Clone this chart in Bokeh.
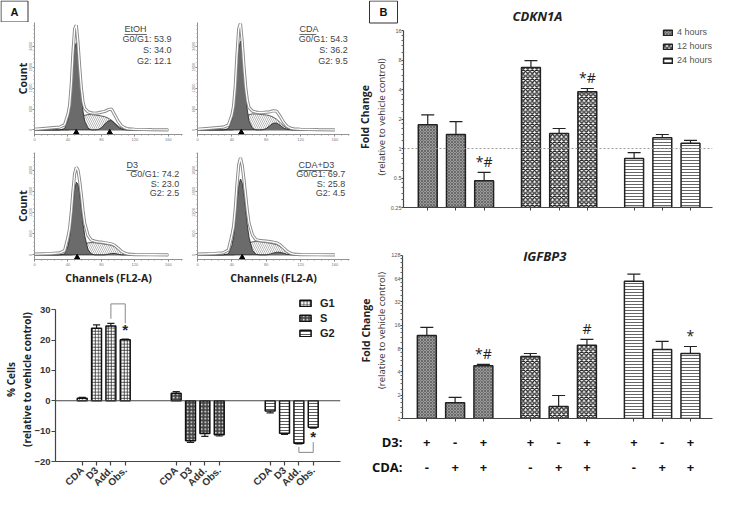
import math
from bokeh.plotting import figure
from bokeh.layouts import row, column
from bokeh.models import (FixedTicker, Label, Span, Legend, LegendItem, LinearAxis,
                          Range1d, FactorRange)
from bokeh.core.properties import value
from bokeh.embed import file_html
from bokeh.resources import INLINE

# ----------------------------- data -----------------------------
# flow-cytometry histograms (channel vs count)
channels = [0, 10, 20, 30, 36, 40, 42, 44, 46, 48, 50, 52, 54, 56, 58, 60, 64, 68,
            72, 76, 80, 84, 88, 92, 96, 100, 104, 108, 112, 120, 140, 160]

etoh_total = [20, 40, 60, 80, 150, 450, 700, 1300, 2200, 2900, 3000, 2500, 1800, 1200, 800, 620,
              520, 490, 480, 490, 510, 530, 580, 600, 430, 250, 120, 60, 30, 20, 10, 5]
etoh_g1 = [0, 0, 0, 0, 40, 300, 550, 1100, 1800, 2350, 2500, 2200, 1600, 1000, 550, 250,
           50, 0, 0, 0, 0, 0, 0, 0, 0, 0, 0, 0, 0, 0, 0, 0]
etoh_s = [0, 0, 0, 0, 0, 0, 10, 20, 50, 80, 130, 200, 270, 340, 390, 420,
          440, 440, 430, 420, 400, 380, 340, 280, 200, 110, 50, 15, 0, 0, 0, 0]
etoh_g2 = [0, 0, 0, 0, 0, 0, 0, 0, 0, 0, 0, 0, 0, 0, 0, 0,
           0, 0, 0, 10, 60, 170, 260, 270, 180, 80, 25, 5, 0, 0, 0, 0]

cda_total = [20, 40, 60, 80, 140, 420, 680, 1250, 2150, 2900, 3050, 2550, 1850, 1250, 850, 640,
             540, 510, 500, 500, 510, 520, 550, 540, 400, 230, 110, 55, 30, 20, 10, 5]
cda_g1 = [0, 0, 0, 0, 40, 300, 550, 1100, 1800, 2350, 2550, 2250, 1650, 1050, 580, 260,
          50, 0, 0, 0, 0, 0, 0, 0, 0, 0, 0, 0, 0, 0, 0, 0]
cda_s = [0, 0, 0, 0, 0, 0, 10, 20, 50, 90, 140, 210, 290, 360, 410, 440,
         460, 460, 450, 440, 430, 410, 370, 310, 220, 120, 50, 15, 0, 0, 0, 0]
cda_g2 = [0, 0, 0, 0, 0, 0, 0, 0, 0, 0, 0, 0, 0, 0, 0, 0,
          0, 0, 0, 5, 40, 120, 190, 200, 140, 60, 20, 5, 0, 0, 0, 0]

d3_total = [20, 30, 40, 60, 120, 500, 750, 1200, 1800, 2300, 2480, 2400, 2100, 1700, 1250, 900,
            550, 420, 390, 370, 360, 345, 330, 310, 270, 190, 100, 50, 20, 10, 5, 0]
d3_g1 = [0, 0, 0, 0, 30, 250, 500, 900, 1400, 1850, 2060, 2000, 1750, 1350, 900, 550,
         150, 30, 0, 0, 0, 0, 0, 0, 0, 0, 0, 0, 0, 0, 0, 0]
d3_s = [0, 0, 0, 0, 0, 0, 0, 0, 10, 40, 80, 120, 170, 220, 260, 300,
        340, 350, 345, 335, 320, 305, 290, 270, 230, 160, 90, 40, 0, 0, 0, 0]
d3_g2 = [0, 0, 0, 0, 0, 0, 0, 0, 0, 0, 0, 0, 0, 0, 0, 0,
         0, 0, 0, 0, 0, 0, 20, 40, 40, 20, 0, 0, 0, 0, 0, 0]

cd_total = [20, 30, 40, 60, 140, 550, 800, 1300, 2000, 2550, 2750, 2550, 2150, 1700, 1250, 900,
            560, 430, 410, 400, 390, 375, 360, 340, 290, 200, 110, 50, 20, 10, 5, 0]
cd_g1 = [0, 0, 0, 0, 30, 260, 520, 950, 1500, 1950, 2150, 2050, 1750, 1300, 850, 500,
         130, 20, 0, 0, 0, 0, 0, 0, 0, 0, 0, 0, 0, 0, 0, 0]
cd_s = [0, 0, 0, 0, 0, 0, 0, 10, 20, 50, 90, 140, 200, 260, 300, 340,
        370, 380, 375, 365, 350, 335, 315, 290, 240, 170, 90, 40, 0, 0, 0, 0]
cd_g2 = [0, 0, 0, 0, 0, 0, 0, 0, 0, 0, 0, 0, 0, 0, 0, 0,
         0, 0, 0, 0, 0, 20, 50, 75, 75, 50, 20, 5, 0, 0, 0, 0]

etoh_marks = [50, 90]
cda_marks = [51]
d3_marks = [51]
cd_marks = [52]

hist_names = ["EtOH", "CDA", "D3", "CDA+D3"]
g0g1_pct = [53.9, 54.3, 74.2, 69.7]
s_pct = [34.0, 36.2, 23.0, 25.8]
g2_pct = [12.1, 9.5, 2.5, 4.5]

# panel A bar chart: % cells relative to vehicle control
phases = ["G1", "S", "G2"]
treatments = ["CDA", "D3", "Add.", "Obs."]
g1_vals = [0.8, 23.9, 24.6, 20.1]
g1_err = [0.3, 1.1, 0.9, 0.2]
s_vals = [2.5, -13.2, -10.8, -11.2]
s_err = [0.5, 0.5, 0.9, 0.4]
g2_vals = [-3.4, -10.7, -14.0, -8.7]
g2_err = [0.6, 0.4, 0.2, 0.3]

# panel B: fold change (log2 axes)
hours = ["4 hours", "12 hours", "24 hours"]
d3_signs = ["+", "-", "+"]
cda_signs = ["-", "+", "+"]
cdkn1a_vals = [[1.75, 1.39, 0.47], [6.7, 1.42, 3.8], [0.79, 1.29, 1.13]]
cdkn1a_upper = [[2.2, 1.88, 0.57], [7.9, 1.6, 4.1], [0.91, 1.39, 1.21]]
cdkn1a_marks = [["", "", "*#"], ["", "", "*#"], ["", "", ""]]
igfbp3_vals = [[11.8, 1.6, 4.8], [6.3, 1.43, 8.8], [59, 7.8, 6.9]]
igfbp3_upper = [[15, 1.87, 5.0], [6.9, 1.98, 10.5], [73, 9.9, 8.5]]
igfbp3_marks = [["", "", "*#"], ["", "", "#"], ["", "", "*"]]
cdkn1a_ticks = [0.25, 0.5, 1, 2, 4, 8, 16]
igfbp3_ticks = [1, 2, 4, 8, 16, 32, 64, 128]

# ----------------------------- styling -----------------------------
OS = "Open Sans"
AR = "Liberation Sans"


def base(p):
    p.outline_line_color = None
    for g in list(p.xgrid) + list(p.ygrid):
        g.visible = False
    p.background_fill_color = "white"
    p.border_fill_color = "white"
    return p


def fig(w, h, l, r, t, b, **kw):
    p = figure(width=w, height=h, output_backend="svg", toolbar_location=None, title=None,
               min_border_left=l, min_border_right=r, min_border_top=t, min_border_bottom=b,
               frame_align=False, **kw)
    return base(p)


def header(w, h):
    return fig(w, h, 0, 0, 0, 0, x_range=Range1d(0, w), y_range=Range1d(0, h),
               x_axis_location=None, y_axis_location=None)


def blank_axis(label, font_style, size, color="#333", standoff=0):
    ax = LinearAxis(ticker=FixedTicker(ticks=[]), axis_label=label)
    ax.axis_line_color = None
    ax.major_tick_out = 0
    ax.major_tick_in = 0
    ax.minor_tick_out = 0
    ax.minor_tick_in = 0
    ax.major_label_text_font_size = "0px"
    ax.major_label_standoff = 0
    ax.axis_label_standoff = standoff
    ax.axis_label_text_font = OS
    ax.axis_label_text_font_style = font_style
    ax.axis_label_text_font_size = size
    ax.axis_label_text_color = color
    return ax


def histogram(total, g1, s, g2, marks, idx, w, h, l, r, t, b, y_end,
              name_x, right_x, ys, bottom_row, left_col, px_x, px_y):
    p = fig(w, h, l, r, t, b, x_range=Range1d(0, 177), y_range=Range1d(-130, y_end))
    p.varea(x=channels, y1=0, y2=s, fill_color="white", hatch_pattern="left_diagonal_line",
            hatch_color="#888", hatch_scale=4, hatch_weight=0.6)
    p.line(channels, s, line_color="#333", line_width=0.8)
    p.varea(x=channels, y1=0, y2=g1, fill_color="#6b6b6b")
    p.line(channels, g1, line_color="#222", line_width=0.8)
    p.varea(x=channels, y1=0, y2=g2, fill_color="#6b6b6b")
    p.line(channels, g2, line_color="#222", line_width=0.8)
    p.line(channels, total, line_color="#8a8a8a", line_width=3.2)
    p.line(channels, total, line_color="white", line_width=1.3)
    p.scatter(x=marks, y=[-75] * len(marks), marker="triangle", size=5.5,
              fill_color="black", line_color="black")

    p.xaxis.ticker = FixedTicker(ticks=[0, 40, 80, 120, 160], minor_ticks=list(range(0, 177, 8)))
    p.yaxis.ticker = FixedTicker(ticks=[0, 600, 1200, 1800, 2400],
                                 minor_ticks=list(range(0, int(y_end), 120)))
    for ax in (p.xaxis[0], p.yaxis[0]):
        ax.axis_line_color = "#777"
        ax.axis_line_width = 0.8
        ax.major_tick_line_color = "#777"
        ax.minor_tick_line_color = "#999"
        ax.major_tick_out = 2
        ax.major_tick_in = 0
        ax.minor_tick_out = 1
        ax.minor_tick_in = 0
        ax.major_label_text_font_size = "4px"
        ax.major_label_text_color = "#777"
        ax.major_label_standoff = 1
        ax.major_label_text_font = AR
    p.yaxis.major_label_orientation = "vertical"
    p.yaxis.major_label_standoff = 0
    if left_col:
        p.yaxis.axis_label = "Count"
        p.yaxis.axis_label_text_font = OS
        p.yaxis.axis_label_text_font_style = "bold"
        p.yaxis.axis_label_text_font_size = "10.5px"
        p.yaxis.axis_label_standoff = -3
        p.yaxis.axis_label_text_color = "#222"
    if bottom_row:
        p.xaxis.axis_label = "Channels (FL2-A)"
        p.xaxis.axis_label_text_font = OS
        p.xaxis.axis_label_text_font_style = "bold"
        p.xaxis.axis_label_text_font_size = "10.5px"
        p.xaxis.axis_label_standoff = 2
        p.xaxis.axis_label_text_color = "#222"

    name = hist_names[idx]
    lines = [f"G0/G1: {g0g1_pct[idx]:.1f}", f"S: {s_pct[idx]:.1f}", f"G2: {g2_pct[idx]:.1f}"]
    common = dict(text_font=AR, text_font_size="9px", text_color="#444", text_baseline="middle")
    p.add_layout(Label(x=name_x, y=ys[0], text=name, text_align="left", **common))
    uw = len(name) * 5.6 / px_x
    p.segment(x0=[name_x], y0=[ys[0] - 6 / px_y], x1=[name_x + uw], y1=[ys[0] - 6 / px_y],
              line_color="#444", line_width=0.8)
    for txt, yy in zip(lines, ys[1:]):
        p.add_layout(Label(x=right_x, y=yy, text=txt, text_align="right", **common))
    return p


# panel letter A
head_a = header(354, 22)
head_a.rect(x=[14], y=[11], width=27, height=21, fill_color=None, line_color="#333",
            line_width=1)
head_a.add_layout(Label(x=14, y=11, text="A", text_font=AR, text_font_style="bold",
                        text_font_size="11px", text_align="center", text_baseline="middle",
                        text_color="#111"))

# top row: frame y 30..142, bottom row: frame y 160..273
h1 = histogram(etoh_total, etoh_g1, etoh_s, etoh_g2, etoh_marks, 0, 189, 122, 34, 7, 0, 10, 3080,
               107.6, 163.9, [2908, 2593, 2278, 1963], False, True, 0.836, 0.0349)
h2 = histogram(cda_total, cda_g1, cda_s, cda_g2, cda_marks, 1, 165, 122, 8, 5, 0, 10, 3080,
               118.8, 175.0, [2908, 2593, 2278, 1963], False, False, 0.859, 0.0349)
h3 = histogram(d3_total, d3_g1, d3_s, d3_g2, d3_marks, 2, 189, 143, 34, 7, 8, 24, 2900,
               110.0, 173.0, [2552, 2284, 2016, 1748], True, True, 0.836, 0.0373)
h4 = histogram(cd_total, cd_g1, cd_s, cd_g2, cd_marks, 3, 165, 143, 8, 5, 8, 24, 2900,
               117.6, 172.0, [2552, 2284, 2016, 1748], True, False, 0.859, 0.0373)

# ----------------------------- panel A bar chart -----------------------------
pa = fig(354, 207, 52, 14, 10, 22, x_range=Range1d(-1.86, 18.0), y_range=Range1d(-20, 34))
group_gap_a = 6.55
styles_a = [
    dict(fill_color="white", hatch_pattern="cross", hatch_color="#333", hatch_scale=3.2,
         hatch_weight=0.8),
    dict(fill_color="#444", hatch_pattern="dot", hatch_color="white", hatch_scale=3.5,
         hatch_weight=1.6),
    dict(fill_color="white", hatch_pattern="horizontal_line", hatch_color="#333",
         hatch_scale=3, hatch_weight=0.8),
]
pa.add_layout(Span(location=0, dimension="width", line_color="#444", line_width=1.2))
items_a = []
tick_pos_a = []
tick_lab_a = {}
xs_by_group = []
for gi, (vals, errs) in enumerate([(g1_vals, g1_err), (s_vals, s_err), (g2_vals, g2_err)]):
    xs = [gi * group_gap_a + i for i in range(len(treatments))]
    xs_by_group.append(xs)
    ends = [v + (e if v >= 0 else -e) for v, e in zip(vals, errs)]
    pa.segment(x0=xs, y0=vals, x1=xs, y1=ends, line_color="#222", line_width=1.2)
    pa.segment(x0=[x - 0.25 for x in xs], y0=ends, x1=[x + 0.25 for x in xs], y1=ends,
               line_color="#222", line_width=1.2)
    r = pa.vbar(x=xs, top=vals, bottom=0, width=0.69, line_color="#111", line_width=1.5,
                **styles_a[gi])
    items_a.append(LegendItem(label=phases[gi], renderers=[r]))
    for x, t in zip(xs, treatments):
        tick_pos_a.append(x)
        tick_lab_a[x] = t

# significance brackets
xa, xo = xs_by_group[0][2], xs_by_group[0][3]
pa.line(x=[xa, xa, xo, xo], y=[27, 31.9, 31.9, 25.5], line_color="#888", line_width=1)
pa.add_layout(Label(x=xo, y=23.6, text="*", text_font=AR, text_font_style="bold",
                    text_font_size="15px", text_align="center", text_baseline="middle",
                    text_color="#222"))
xa2, xo2 = xs_by_group[2][2], xs_by_group[2][3]
pa.line(x=[xa2, xa2, xo2, xo2], y=[-15.2, -17.0, -17.0, -13.6], line_color="#888", line_width=1)
pa.add_layout(Label(x=xo2, y=-11.8, text="*", text_font=AR, text_font_style="bold",
                    text_font_size="15px", text_align="center", text_baseline="middle",
                    text_color="#222"))

pa.xaxis.ticker = FixedTicker(ticks=tick_pos_a)
pa.xaxis.major_label_overrides = tick_lab_a
pa.xaxis.major_label_orientation = math.pi / 4
pa.yaxis.ticker = FixedTicker(ticks=[-20, -10, 0, 10, 20, 30])
pa.yaxis.bounds = (-20, 30)
for ax in (pa.xaxis[0], pa.yaxis[0]):
    ax.axis_line_color = "#444"
    ax.axis_line_width = 1.2
    ax.major_tick_line_color = "#444"
    ax.major_tick_line_width = 1.2
    ax.major_tick_out = 4
    ax.major_tick_in = 0
    ax.minor_tick_line_color = None
    ax.major_label_text_font = AR
    ax.major_label_text_font_style = "bold"
    ax.major_label_text_font_size = "10px"
    ax.major_label_text_color = "#333"
    ax.major_label_standoff = 3
pa.yaxis.major_label_text_font_size = "9.5px"
pa.yaxis.major_label_standoff = 1
pa.yaxis.axis_label = "(relative to vehicle control)"
pa.yaxis.axis_label_text_font = OS
pa.yaxis.axis_label_text_font_style = "bold"
pa.yaxis.axis_label_text_font_size = "10px"
pa.yaxis.axis_label_text_color = "#222"
pa.yaxis.axis_label_standoff = -3
pa.add_layout(blank_axis("% Cells", "bold", "10px", "#222"), "left")
leg_a = Legend(items=items_a, location="top_right", margin=0, padding=3, glyph_width=14,
               glyph_height=8, label_width=20, label_height=12, label_standoff=8, spacing=3,
               label_text_font=AR, label_text_font_style="bold", label_text_font_size="11px",
               label_text_color="#222", border_line_color=None, background_fill_alpha=0)
pa.add_layout(leg_a)

# ----------------------------- panel B -----------------------------
xr_b = Range1d(-0.86, 10.1)
group_gap_b = 3.66
bar_x_b = [[g * group_gap_b + i for i in range(3)] for g in range(3)]
styles_b = [
    dict(fill_color="#9a9a9a", hatch_pattern="diagonal_cross", hatch_color="#4a4a4a",
         hatch_scale=3, hatch_weight=0.6),
    dict(fill_color="white", hatch_pattern="diagonal_cross", hatch_color="#222",
         hatch_scale=4.5, hatch_weight=1.3),
    dict(fill_color="white", hatch_pattern="horizontal_line", hatch_color="#555",
         hatch_scale=3, hatch_weight=0.9),
]


def log2_minor(lo, hi, n=4):
    out = []
    v = lo
    while v < hi:
        out += [v * (1 + j / (n + 1)) for j in range(1, n + 1)]
        v *= 2
    return out


def fold_panel(h, t, b, y_lo, y_hi, ticks, vals, upper, marks, mark_factor, with_legend):
    p = fig(360, h, 48, 2, t, b, x_range=xr_b, y_range=Range1d(y_lo, y_hi), y_axis_type="log")
    items = []
    for g in range(3):
        xs = bar_x_b[g]
        p.segment(x0=xs, y0=vals[g], x1=xs, y1=upper[g], line_color="#222", line_width=1.2)
        p.segment(x0=[x - 0.23 for x in xs], y0=upper[g], x1=[x + 0.23 for x in xs],
                  y1=upper[g], line_color="#222", line_width=1.2)
        r = p.vbar(x=xs, top=vals[g], bottom=y_lo, width=0.67, line_color="#222",
                   line_width=1.5, **styles_b[g])
        items.append(LegendItem(label=hours[g], renderers=[r]))
        mx = [x for x, m in zip(xs, marks[g]) if m]
        my = [u * mark_factor for u, m in zip(upper[g], marks[g]) if m]
        mt = [m for m in marks[g] if m]
        if mt:
            p.text(x=mx, y=my, text=mt, text_font=value(OS), text_font_size="14px",
                   text_color="#222", text_align="center", text_baseline="middle")
    p.xaxis.ticker = FixedTicker(ticks=[x for xs in bar_x_b for x in xs])
    p.xaxis.major_label_text_font_size = "1px"
    p.xaxis.major_label_text_color = None
    p.xaxis.major_label_standoff = 0
    p.yaxis.ticker = FixedTicker(ticks=ticks, minor_ticks=log2_minor(ticks[0], ticks[-1]))
    p.yaxis.major_label_overrides = {t_: (f"{t_:g}") for t_ in ticks}
    p.yaxis.bounds = (ticks[0], ticks[-1])
    for ax in (p.xaxis[0], p.yaxis[0]):
        ax.axis_line_color = "#444"
        ax.axis_line_width = 1.2
        ax.major_tick_line_color = "#444"
        ax.major_tick_out = 3
        ax.major_tick_in = 0
        ax.minor_tick_line_color = "#666"
        ax.minor_tick_out = 2
        ax.minor_tick_in = 0
    p.yaxis.major_tick_out = 2
    p.yaxis.major_label_text_font = AR
    p.yaxis.major_label_text_font_size = "5.5px"
    p.yaxis.major_label_text_color = "#555"
    p.yaxis.major_label_standoff = 0
    p.yaxis.axis_label = "(relative to vehicle control)"
    p.yaxis.axis_label_text_font = OS
    p.yaxis.axis_label_text_font_style = "normal"
    p.yaxis.axis_label_text_font_size = "9.5px"
    p.yaxis.axis_label_text_color = "#333"
    p.yaxis.axis_label_standoff = 0
    p.add_layout(blank_axis("Fold Change", "bold", "10.5px", "#222", 0), "left")
    if with_legend:
        p.add_layout(Span(location=1, dimension="width", line_color="#999", line_width=1,
                          line_dash="2 2"))
        leg = Legend(items=items, location="top_right", margin=0, padding=1, glyph_width=11,
                     glyph_height=7, label_height=12, label_standoff=4, spacing=2,
                     label_text_font=AR, label_text_font_size="9px", label_text_color="#555",
                     border_line_color=None, background_fill_alpha=0)
        p.add_layout(leg)
    return p


# panel letter B and CDKN1A title
head_b = header(360, 26)
head_b.rect(x=[29], y=[14.5], width=28, height=22, fill_color=None, line_color="#333",
            line_width=1)
head_b.add_layout(Label(x=29, y=14.5, text="B", text_font=AR, text_font_style="bold",
                        text_font_size="11px", text_align="center", text_baseline="middle",
                        text_color="#111"))
head_b.add_layout(Label(x=183, y=11, text="CDKN1A", text_font=OS, text_font_style="bold italic",
                        text_font_size="13px", text_color="#222", text_align="center",
                        text_baseline="middle"))

pc = fold_panel(201, 0, 20, 0.25, 17.6, cdkn1a_ticks, cdkn1a_vals, cdkn1a_upper, cdkn1a_marks,
                1.3, True)
pi3 = fold_panel(202, 15, 11, 1, 187, igfbp3_ticks, igfbp3_vals, igfbp3_upper, igfbp3_marks,
                 1.38, False)
pi3.add_layout(Label(x=4.17, y=124, text="IGFBP3", text_font=OS, text_font_style="bold italic",
                     text_font_size="13px", text_color="#222", text_align="center",
                     text_baseline="middle"))

# D3 / CDA treatment rows
pm = fig(360, 65, 48, 2, 0, 15, x_range=xr_b, y_range=FactorRange("CDA:", "D3:"))
all_x = [x for xs in bar_x_b for x in xs]
pm.text(x=all_x, y=["D3:"] * len(all_x), text=d3_signs * 3, text_font=value(OS),
        text_font_style="bold", text_font_size="13px", text_color="#111",
        text_align="center", text_baseline="middle")
pm.text(x=all_x, y=["CDA:"] * len(all_x), text=cda_signs * 3, text_font=value(OS),
        text_font_style="bold", text_font_size="13px", text_color="#111",
        text_align="center", text_baseline="middle")
pm.xaxis.visible = False
pm.yaxis.axis_line_color = None
pm.yaxis.major_tick_line_color = None
pm.yaxis.minor_tick_line_color = None
pm.yaxis.major_label_text_font = OS
pm.yaxis.major_label_text_font_style = "bold"
pm.yaxis.major_label_text_font_size = "13px"
pm.yaxis.major_label_text_color = "#111"
pm.yaxis.major_label_standoff = -6

layout = row(column(head_a, row(h1, h2), row(h3, h4), pa), column(head_b, pc, pi3, pm))
open("out.html", "w").write(file_html(layout, INLINE))
